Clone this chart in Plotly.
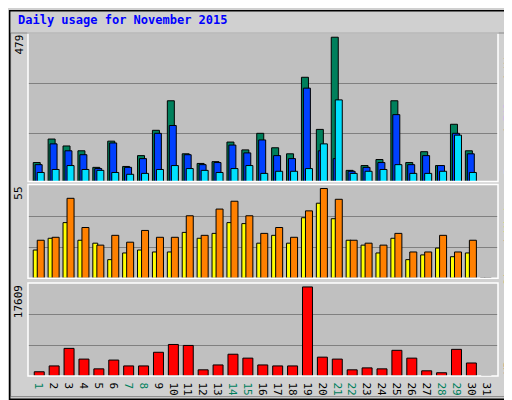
import plotly.graph_objects as go

days = list(range(1, 32))
hits = [63, 141, 118, 102, 47, 134, 50, 86, 170, 268, 92, 60, 66, 131, 105, 160, 112, 92, 346, 173, 479, 37, 53, 73, 268, 63, 99, 53, 190, 102, 0]
files = [56, 125, 102, 89, 43, 128, 47, 76, 160, 186, 89, 56, 63, 121, 95, 138, 86, 76, 310, 102, 76, 34, 47, 63, 222, 56, 86, 53, 160, 92, 0]
pages = [30, 40, 53, 40, 37, 30, 24, 27, 40, 53, 43, 37, 30, 43, 53, 27, 34, 34, 43, 125, 271, 27, 34, 40, 56, 27, 27, 34, 154, 30, 0]
visits = [23.3, 25.1, 49, 31.1, 20.3, 26.3, 22.1, 29.3, 25.1, 25.1, 38.3, 26.3, 42.4, 47.2, 38.3, 27.5, 31.1, 25.1, 41.3, 55, 48.4, 23.3, 21.5, 20.3, 27.5, 16.1, 16.1, 26.3, 16.1, 23.3, 0]
sites = [17.3, 24.5, 34.1, 23.3, 21.5, 11.4, 15.5, 17.3, 16.1, 16.1, 28.1, 24.5, 27.5, 34.1, 33.5, 21.5, 26.3, 21.5, 37.1, 46, 36.5, 23.3, 20.3, 15.5, 24.5, 11.4, 14.3, 18.5, 13.2, 15.5, 0]
kbytes = [835, 1992, 5463, 3342, 1414, 3149, 1992, 1992, 4691, 6234, 6041, 1221, 2185, 4306, 3535, 2185, 1992, 1992, 17609, 3727, 3342, 1221, 1607, 1414, 5077, 3535, 1028, 643, 5270, 2571, 0]
weekends = [1, 7, 8, 14, 15, 21, 22, 28, 29]

GREEN = "#00805c"
MONO = "DejaVu Sans Mono"
line = dict(color="black", width=1)

fig = go.Figure()


def bars(y, color, offset, width, yaxis):
    fig.add_trace(go.Bar(x=days, y=y, marker=dict(color=color, line=line),
                         offset=offset, width=width, yaxis=yaxis, hoverinfo="skip"))


bars(hits, GREEN, -0.52, 0.47, "y")
bars(files, "#0040ff", -0.39, 0.47, "y")
bars(pages, "#00e0ff", -0.25, 0.47, "y")
bars(sites, "#ffff00", -0.52, 0.33, "y2")
bars(visits, "#ff8000", -0.25, 0.47, "y2")
bars(kbytes, "#ff0000", -0.45, 0.67, "y3")

ticktext = [f"<span style='color:{GREEN}'>{d}</span>" if d in weekends else str(d) for d in days]


def yax(top, domain):
    return dict(domain=domain, range=[0, top], tickvals=[top * 0.325, top * 0.66],
                showticklabels=False, ticks="", showgrid=True, gridcolor="#808080",
                zeroline=False, fixedrange=True)


fig.update_layout(
    width=512, height=400, barmode="overlay", showlegend=False,
    paper_bgcolor="#d0d0d0", plot_bgcolor="#c0c0c0",
    margin=dict(l=20, r=22, t=25, b=24),
    font=dict(family=MONO, size=11, color="black"),
    xaxis=dict(range=[0.13, 31.67], tickvals=days, ticktext=ticktext, ticks="",
               showgrid=False, zeroline=False, tickfont=dict(size=11), anchor="y3"),
    yaxis=yax(493, [0.567, 1]),
    yaxis2=yax(57.4, [0.285, 0.558]),
    yaxis3=yax(18380, [0, 0.271]),
)

fig.add_annotation(text="<b>Daily usage for November 2015</b>", xref="paper", yref="paper",
                   x=-0.025, y=1.065, xanchor="left", yanchor="top", showarrow=False,
                   font=dict(family=MONO, size=12, color="#0000ff"))

ann = [
    dict(text="479", x=-0.02, y=1, yanchor="top"),
    dict(text="55", x=-0.02, y=0.558, yanchor="top"),
    dict(text="17609", x=-0.02, y=0.271, yanchor="top"),
]
for a in ann:
    fig.add_annotation(xref="paper", yref="paper", xanchor="center", textangle=-90,
                       showarrow=False, font=dict(size=11), **a)

right = [
    ("<span style='color:#00e0ff'>Pages</span> / <span style='color:#0040ff'>Files</span> / "
     f"<span style='color:{GREEN}'>Hits</span>", 0.98, "top"),
    ("<span style='color:#ff8000'>Sites</span> / <span style='color:#ffff00'>Visits</span>", 0.54, "top"),
    ("<span style='color:#ff0000'>KBytes</span>", 0.0, "bottom"),
]
for t, yy, ya in right:
    fig.add_annotation(text=t, xref="paper", yref="paper", x=1.022, y=yy, xanchor="center",
                       yanchor=ya, textangle=-90, showarrow=False, font=dict(size=11))

# panel frames
for y0, y1 in [(0.567, 1), (0.285, 0.558), (0, 0.271)]:
    fig.add_shape(type="rect", xref="paper", yref="paper", x0=0, x1=1, y0=y0, y1=y1,
                  line=dict(color="white", width=1.5), layer="above")
fig.add_shape(type="rect", xref="paper", yref="paper", x0=-0.037, x1=1.04, y0=-0.06, y1=1.0,
              line=dict(color="#888888", width=1))
fig.add_shape(type="rect", xref="paper", yref="paper", x0=-0.039, x1=1.043, y0=-0.068, y1=1.065,
              line=dict(color="black", width=1.5))

fig.write_html("out.html")
